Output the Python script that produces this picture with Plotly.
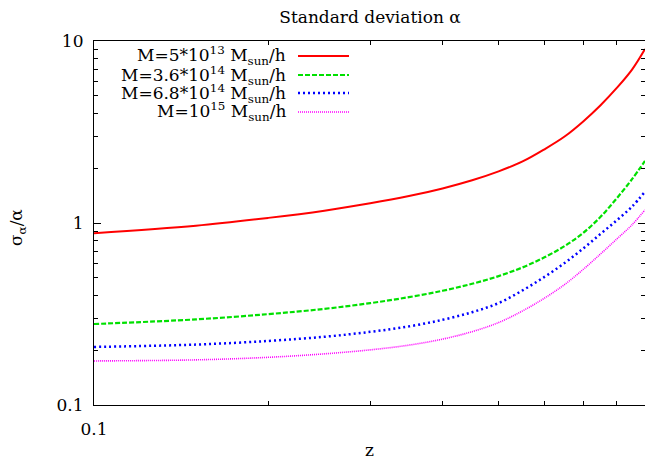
import math
import plotly.graph_objects as go

# ---- data ----
z = [0.1, 0.15, 0.2, 0.25, 0.3, 0.35, 0.4, 0.45, 0.5, 0.55, 0.6, 0.65, 0.7, 0.75, 0.8, 0.85, 0.895]
sig_m5e13 = [0.879, 0.966, 1.067, 1.169, 1.282, 1.406, 1.549, 1.718, 1.923, 2.178, 2.541, 2.985, 3.614, 4.436, 5.521, 6.966, 9.036]
sig_m36e14 = [0.2786, 0.2954, 0.3157, 0.3375, 0.3628, 0.3914, 0.4242, 0.4635, 0.5108, 0.5705, 0.6479, 0.7469, 0.8822, 1.0814, 1.3677, 1.7418, 2.1928]
sig_m68e14 = [0.2084, 0.2148, 0.2249, 0.2371, 0.2523, 0.2704, 0.2938, 0.3236, 0.3631, 0.4266, 0.5058, 0.6026, 0.7244, 0.8710, 1.0351, 1.2303, 1.4859]
sig_m1e15 = [0.1746, 0.1770, 0.1828, 0.1910, 0.2009, 0.2133, 0.2301, 0.2529, 0.2838, 0.3289, 0.3864, 0.4592, 0.5559, 0.6761, 0.8166, 0.9772, 1.1803]

series_names = [
    "M=5*10<sup>13</sup> M<sub>sun</sub>/h",
    "M=3.6*10<sup>14</sup> M<sub>sun</sub>/h",
    "M=6.8*10<sup>14</sup> M<sub>sun</sub>/h",
    "M=10<sup>15</sup> M<sub>sun</sub>/h",
]
series_values = [sig_m5e13, sig_m36e14, sig_m68e14, sig_m1e15]

x_major_ticks = [0.1]
x_major_labels = ["0.1"]
x_minor_ticks = [0.2, 0.3, 0.4, 0.5, 0.6, 0.7, 0.8, 0.9]
y_major_ticks = [0.1, 1, 10]
y_major_labels = ["0.1", "1", "10"]
y_minor_ticks = [m * d for d in (0.1, 1) for m in range(2, 10)]

# ---- styling ----
colors = ["#ff0000", "#00e000", "#0000ff", "#ff00ff"]
dashes = ["solid", "5px,2px", "2px,3px", "1px,1px"]
widths = [2, 2.2, 2.5, 1.6]
FONT = "DejaVu Serif"
FS = 17

W, H = 645, 460
L, R, T, B = 94, 0, 41, 55
pw, ph = W - L - R, H - T - B

def px_x(p):
    return (p - L) / pw

def px_y(p):
    return (H - B - p) / ph

fig = go.Figure()
for name, vals, c, d, w in zip(series_names, series_values, colors, dashes, widths):
    fig.add_trace(go.Scatter(x=z, y=vals, mode="lines", name=name,
                             line=dict(color=c, dash=d, width=w, shape="spline", smoothing=1.0),
                             showlegend=False, hoverinfo="skip"))

# legend imitation (gnuplot style: right-aligned text, sample on the right)
rows_px = [56, 75, 93, 112]
annotations = []
shapes = []
for name, c, d, w, ry in zip(series_names, colors, dashes, widths, rows_px):
    annotations.append(dict(x=px_x(288), y=px_y(ry), xref="paper", yref="paper",
                            text=name, showarrow=False, xanchor="right", yanchor="middle",
                            font=dict(family=FONT, size=FS, color="black")))
    shapes.append(dict(type="line", xref="paper", yref="paper",
                       x0=px_x(298), x1=px_x(349), y0=px_y(ry), y1=px_y(ry),
                       line=dict(color=c, dash=d, width=w)))

annotations.append(dict(x=0.5, y=px_y(450), xref="paper", yref="paper", text="z",
                        showarrow=False, xanchor="center", yanchor="middle",
                        font=dict(family=FONT, size=FS, color="black")))
annotations.append(dict(x=px_x(18), y=px_y(228), xref="paper", yref="paper",
                        text="σ<sub>α</sub>/α", textangle=-90,
                        showarrow=False, xanchor="center", yanchor="middle",
                        font=dict(family=FONT, size=FS, color="black")))

axis_common = dict(showgrid=False, zeroline=False, showline=True, linecolor="black",
                   linewidth=1.2, mirror="allticks", ticks="inside", tickcolor="black",
                   tickwidth=1, ticklen=7, tickfont=dict(family=FONT, size=FS, color="black"))

fig.update_layout(
    width=W, height=H,
    margin=dict(l=L, r=R, t=T, b=B, pad=0),
    paper_bgcolor="white", plot_bgcolor="white",
    font=dict(family=FONT, size=FS, color="black"),
    title=dict(text="Standard deviation α", x=370 / W, xanchor="center",
               y=1 - 17 / H, yanchor="middle",
               font=dict(family=FONT, size=FS, color="black")),
    xaxis=dict(type="log", range=[-1, math.log10(0.895)],
               tickvals=x_major_ticks, ticktext=x_major_labels,
               minor=dict(tickvals=x_minor_ticks, ticks="inside", ticklen=4,
                          tickcolor="black", tickwidth=1),
               ticklabelstandoff=8, **axis_common),
    yaxis=dict(type="log", range=[-1, 1],
               tickvals=y_major_ticks, ticktext=y_major_labels,
               minor=dict(tickvals=y_minor_ticks, ticks="inside", ticklen=4,
                          tickcolor="black", tickwidth=1),
               ticklabelstandoff=6, **axis_common),
    annotations=annotations,
    shapes=shapes,
)

fig.write_html(
    "out.html",
    config={"displayModeBar": False},
    post_script="document.body.style.margin='0';document.body.style.overflow='hidden';",
)
